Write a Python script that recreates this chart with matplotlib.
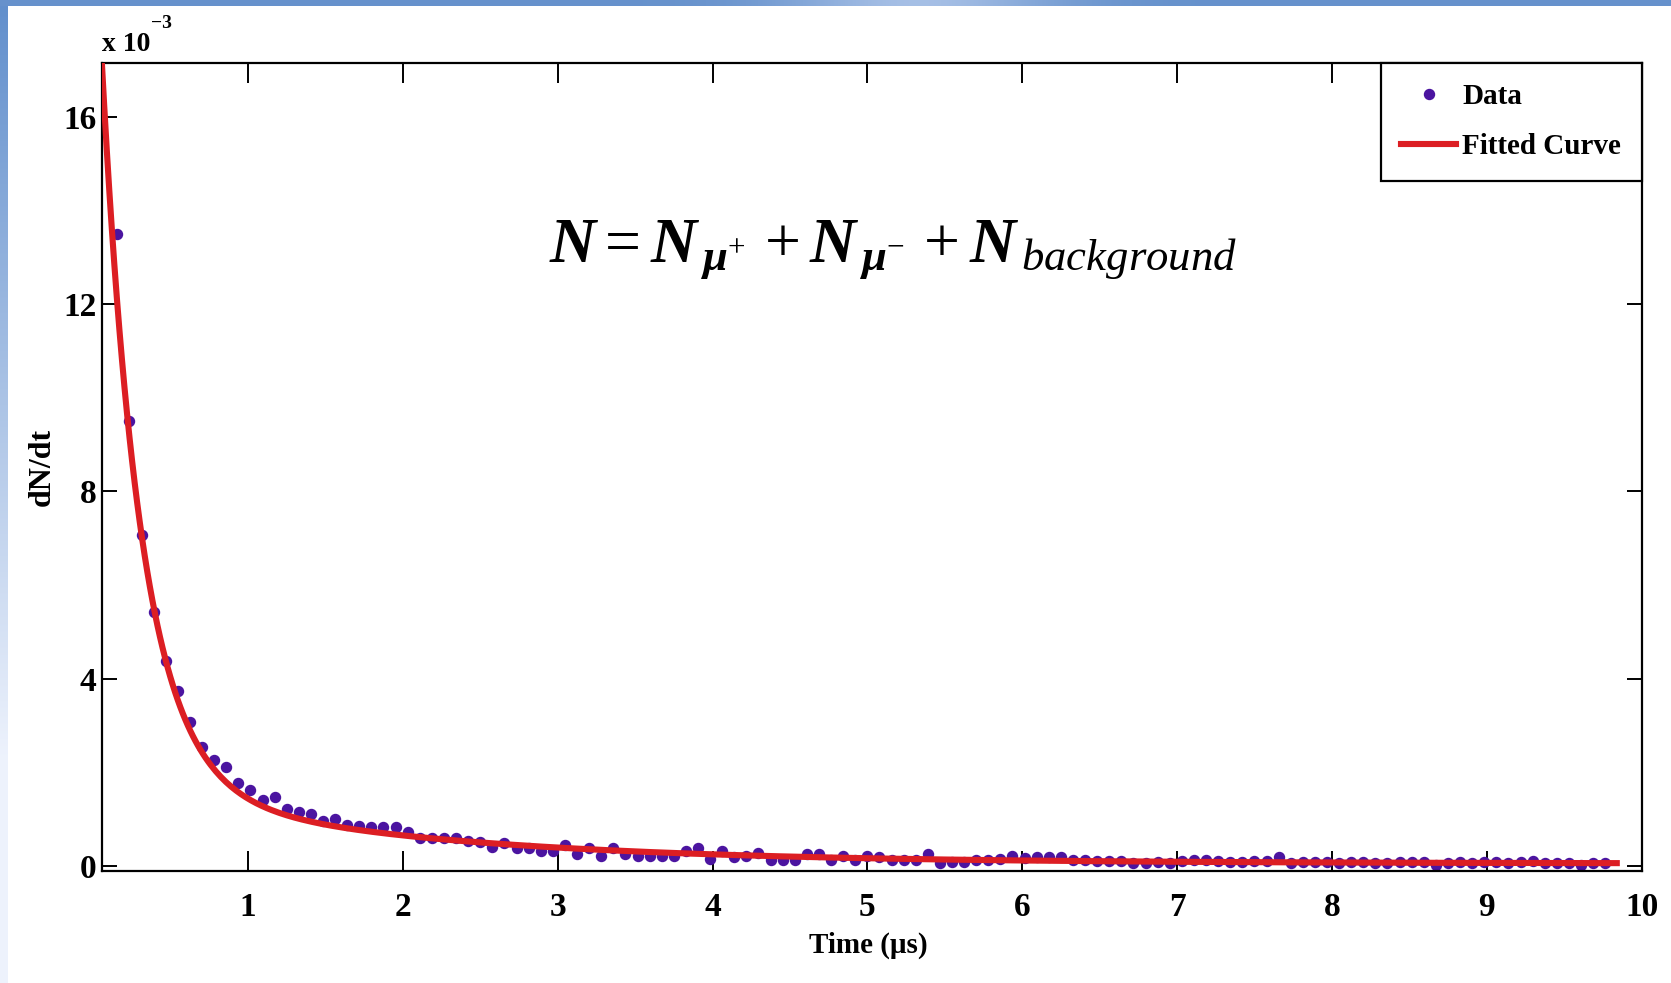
import numpy as np
import matplotlib
matplotlib.use("Agg")
import matplotlib.pyplot as plt
from matplotlib.lines import Line2D

# ---------------- data ----------------
# histogram channels: 128 channels over 10 us
BIN_WIDTH = 10.0 / 128
first_bin, last_bin = 2, 125
time_us = BIN_WIDTH * np.arange(first_bin, last_bin + 1)

# decay rate dN/dt per channel, in units of 1e-3
rate_e3 = [
    13.50, 9.50, 7.08, 5.43, 4.38, 3.74, 3.09, 2.55, 2.26, 2.11,
    1.78, 1.62, 1.42, 1.48, 1.23, 1.16, 1.11, 0.97, 1.02, 0.88,
    0.85, 0.83, 0.83, 0.83, 0.73, 0.61, 0.61, 0.61, 0.61, 0.55,
    0.52, 0.42, 0.50, 0.38, 0.38, 0.33, 0.33, 0.45, 0.26, 0.38,
    0.23, 0.38, 0.26, 0.21, 0.21, 0.21, 0.21, 0.33, 0.38, 0.16,
    0.33, 0.20, 0.21, 0.28, 0.14, 0.14, 0.13, 0.26, 0.26, 0.13,
    0.21, 0.13, 0.22, 0.20, 0.14, 0.13, 0.14, 0.27, 0.06, 0.09,
    0.09, 0.13, 0.14, 0.16, 0.23, 0.17, 0.20, 0.20, 0.19, 0.14,
    0.14, 0.11, 0.11, 0.11, 0.07, 0.06, 0.09, 0.06, 0.12, 0.14,
    0.14, 0.11, 0.09, 0.09, 0.11, 0.11, 0.20, 0.06, 0.09, 0.09,
    0.09, 0.07, 0.09, 0.09, 0.07, 0.07, 0.09, 0.09, 0.09, 0.03,
    0.07, 0.09, 0.07, 0.09, 0.09, 0.06, 0.09, 0.11, 0.07, 0.07,
    0.07, 0.03, 0.07, 0.07,
]

# two-exponential fit (mu- capture, mu+ decay) plus flat background, units 1e-3
fit_amp_fast, fit_tau_fast = 19.2, 0.25
fit_amp_slow, fit_tau_slow = 1.8, 1.8
fit_background = 0.06
fit_t_start, fit_t_end = 0.055, 9.86

x_ticks = [1, 2, 3, 4, 5, 6, 7, 8, 9, 10]
y_ticks = [0, 4, 8, 12, 16]
x_limits = (0.055, 10.0)
y_limits = (-0.094, 17.15)

DOT_COLOR = "#4b14a0"
FIT_COLOR = "#dc1e23"

# ---------------- style ----------------
plt.rcParams["font.family"] = ["Liberation Serif", "DejaVu Serif"]
plt.rcParams["font.weight"] = "bold"
plt.rcParams["mathtext.fontset"] = "custom"
plt.rcParams["mathtext.rm"] = "Liberation Serif:weight=normal"
plt.rcParams["mathtext.it"] = "Liberation Serif:style=italic:weight=normal"
plt.rcParams["mathtext.bf"] = "Liberation Serif:style=italic:weight=bold"

W, H, DPI = 1671, 983, 100
fig = plt.figure(figsize=(W / DPI, H / DPI), dpi=DPI, facecolor="white")

# slide backdrop: thin blue band along the top and left edges
bg = np.ones((H, W, 3))
cols = np.linspace(0, 1, W)
glow = np.exp(-((cols - 0.55) / 0.08) ** 2)
top_col = np.stack([0.40 + 0.25 * glow, 0.57 + 0.18 * glow, 0.80 + 0.10 * glow], axis=1)
bg[:6, :, :] = top_col[None, :, :]
rows = np.linspace(0, 1, H)[:, None]
left_top = np.array([0.38, 0.56, 0.80])
left_bot = np.array([0.93, 0.95, 0.99])
left_col = left_top + (left_bot - left_top) * np.clip(rows * 1.3, 0, 1)
bg[6:, :8, :] = left_col[6:, None, :]
fig.figimage(bg, xo=0, yo=0, origin="upper", zorder=-5)

ax = fig.add_axes([101.7 / W, 1 - 870.7 / H, (1641.5 - 101.7) / W, (870.7 - 62.7) / H])
ax.set_facecolor("white")

# data points and fitted curve
ax.plot(time_us, rate_e3, linestyle="none", marker="o", markersize=7.2,
        color=DOT_COLOR, zorder=2)
t_fit = np.linspace(fit_t_start, fit_t_end, 600)
n_fit = (fit_amp_fast * np.exp(-t_fit / fit_tau_fast)
         + fit_amp_slow * np.exp(-t_fit / fit_tau_slow)
         + fit_background)
ax.plot(t_fit, n_fit, color=FIT_COLOR, linewidth=4.4, zorder=3,
        solid_capstyle="butt")

ax.set_xlim(*x_limits)
ax.set_ylim(*y_limits)
ax.set_xticks(x_ticks)
ax.set_yticks(y_ticks)
ax.set_xticklabels([str(v) for v in x_ticks])
ax.set_yticklabels([str(v) for v in y_ticks])

for s in ax.spines.values():
    s.set_linewidth(1.6)
    s.set_color("black")

ax.tick_params(axis="x", direction="in", top=True, length=14.5, width=1.4,
               labelsize=24, pad=15)
ax.tick_params(axis="y", direction="in", right=True, length=11, width=1.4,
               labelsize=24, pad=4)
for lab in ax.get_xticklabels() + ax.get_yticklabels():
    lab.set_fontweight("bold")

# axis labels
ax.text(0.498, -0.076, "Time (\u03bcs)", transform=ax.transAxes,
        ha="center", va="top", fontsize=21, fontweight="bold")
ax.text(-0.0385, 0.5, "dN/dt", transform=ax.transAxes, rotation=90,
        ha="center", va="center", fontsize=23, fontweight="bold")

# exponent of the y axis
fig.text(101.7 / W, 1 - 50.7 / H, "x 10", ha="left", va="baseline",
         fontsize=20, fontweight="bold")
fig.text(151.0 / W, 1 - 28.0 / H, "\u22123", ha="left", va="baseline",
         fontsize=14, fontweight="bold")

# model equation
ax.text(0.514, 0.7546,
        r"$\mathbf{N} = \mathbf{N}_{\,\mathbf{\mu}^{+}}\, + \mathbf{N}_{\,\mathbf{\mu}^{-}}\,"
        r" + \mathbf{N}_{\,background}$",
        transform=ax.transAxes, ha="center", va="baseline", fontsize=46)

# legend
handles = [
    Line2D([], [], linestyle="none", marker="o", markersize=7.2, color=DOT_COLOR),
    Line2D([], [], color=FIT_COLOR, linewidth=4.4),
]
leg = ax.legend(handles, ["Data", "Fitted Curve"], loc="upper right",
                borderaxespad=0, fancybox=False, framealpha=1,
                edgecolor="black", handlelength=1.9, handletextpad=0.2,
                labelspacing=0.8, borderpad=0.7,
                prop={"family": "Liberation Serif", "weight": "bold", "size": 21})
leg.get_frame().set_linewidth(1.6)

fig.savefig("out.png", dpi=DPI, facecolor="white")
